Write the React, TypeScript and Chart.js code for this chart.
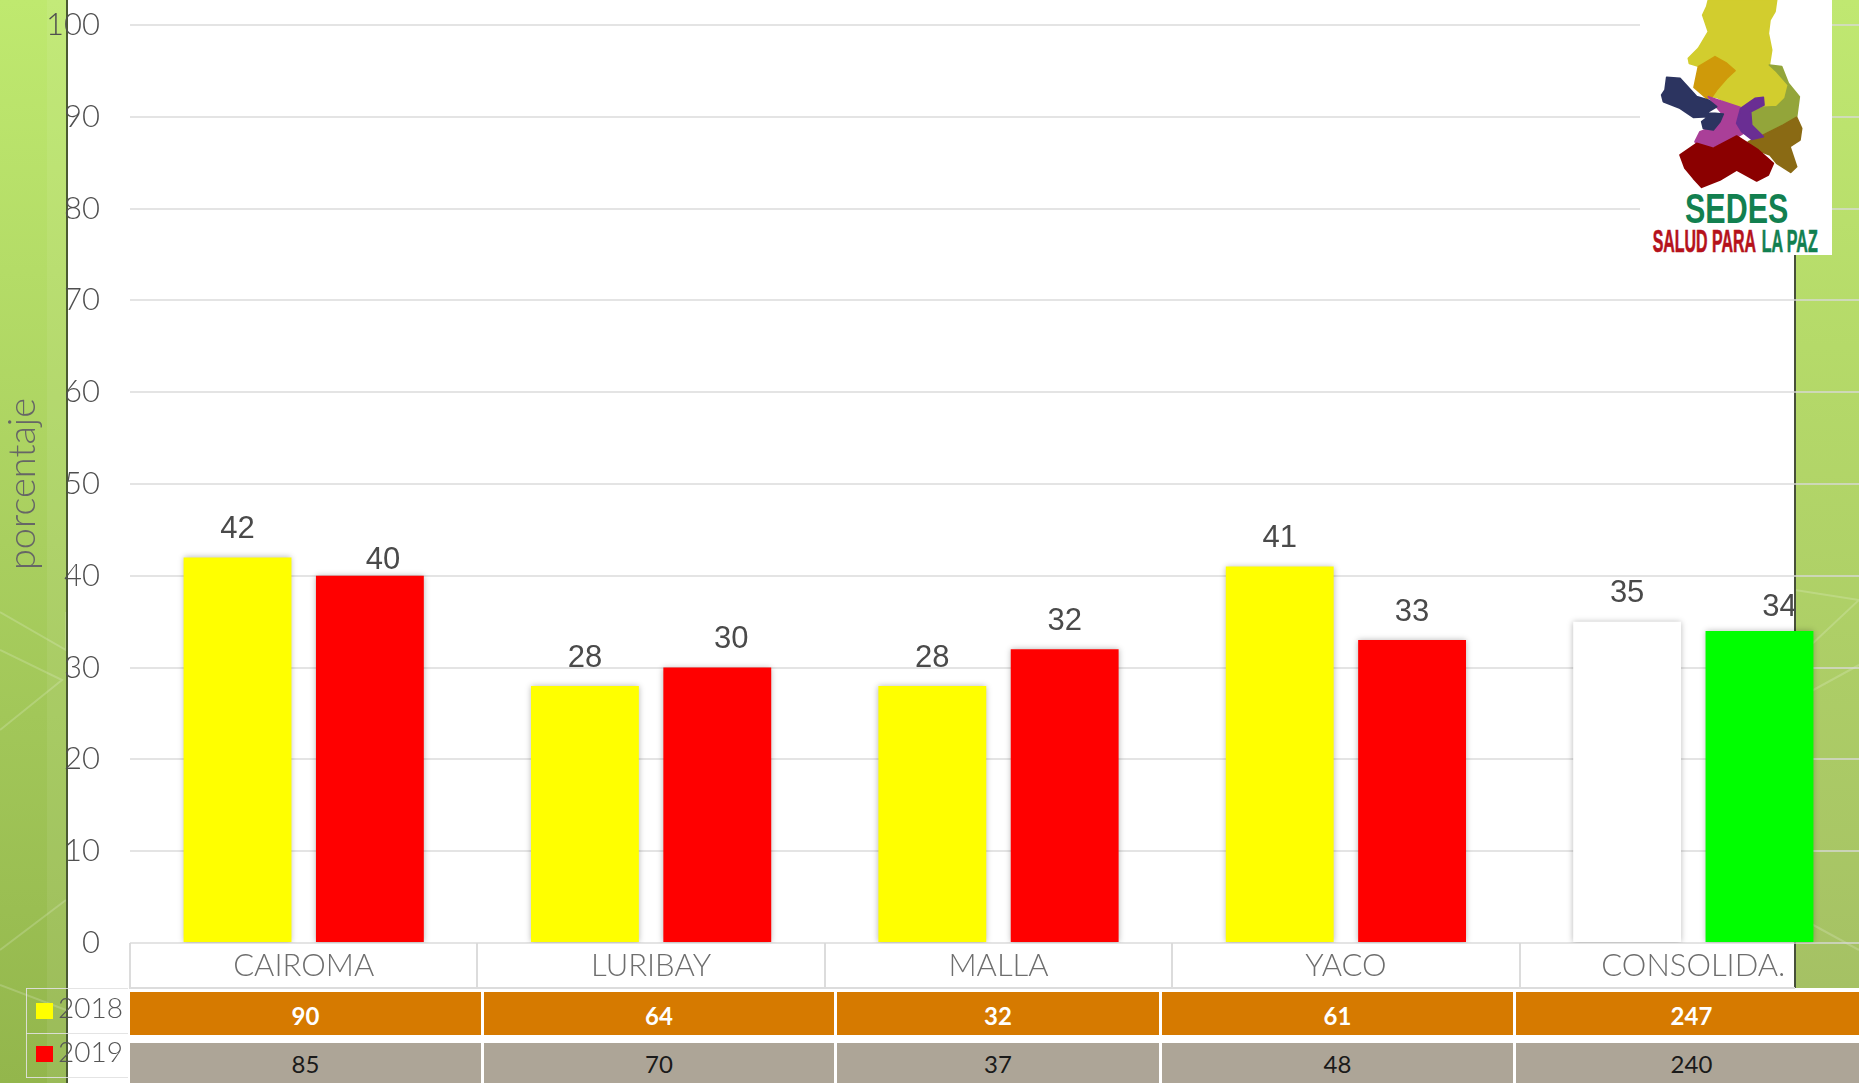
import React, { useEffect, useRef } from "react";
import { Chart, registerables } from "chart.js";

Chart.register(...registerables);

const categories = ["CAIROMA", "LURIBAY", "MALLA", "YACO", "CONSOLIDA."];
const pct2018 = [42, 28, 28, 41, 35];
const pct2019 = [40, 30, 32, 33, 34];
const colors2018 = ["#ffff00", "#ffff00", "#ffff00", "#ffff00", "#ffffff"];
const colors2019 = ["#ff0000", "#ff0000", "#ff0000", "#ff0000", "#00ff00"];
const counts2018 = [90, 64, 32, 61, 247];
const counts2019 = [85, 70, 37, 48, 240];
const yTicks = [0, 10, 20, 30, 40, 50, 60, 70, 80, 90, 100];

// hand-placed label offsets seen in the reference [dx, dy] per dataset / category
const labelNudges: Record<string, [number, number]> = {
  "1-0": [13, 13],
  "1-1": [14, 0],
  "1-4": [20, 5],
};

const TICK_FONT = "Lato, 'Open Sans', sans-serif";

const barExtras = {
  id: "barExtras",
  beforeDatasetDraw(chart: any) {
    const c = chart.ctx;
    c.save();
    c.shadowColor = "rgba(0,0,0,0.28)";
    c.shadowBlur = 6;
  },
  afterDatasetDraw(chart: any) {
    chart.ctx.restore();
  },
  afterDatasetsDraw(chart: any) {
    const c = chart.ctx;
    c.save();
    c.font = "31px 'Liberation Sans', sans-serif";
    c.fillStyle = "#4a4a4a";
    c.textAlign = "center";
    c.textBaseline = "middle";
    chart.data.datasets.forEach((ds: any, di: number) => {
      chart.getDatasetMeta(di).data.forEach((bar: any, i: number) => {
        const n = labelNudges[`${di}-${i}`] || [0, 0];
        c.fillText(String(ds.data[i]), bar.x + n[0], bar.y - 28 + n[1]);
      });
    });
    c.restore();
  },
};

const abs = (left: number, top: number, width: number, height: number, extra: any = {}) => ({
  position: "absolute" as const,
  left,
  top,
  width,
  height,
  ...extra,
});

const colEdges = [130, 484, 837, 1162, 1516, 1870];

function Row({ values, top, height, bg, style }: any) {
  return (
    <>
      {values.map((v: number, i: number) => (
        <div
          key={i}
          style={abs(colEdges[i], top, colEdges[i + 1] - colEdges[i] - 3, height, {
            background: bg,
            display: "flex",
            alignItems: "center",
            justifyContent: "center",
            fontFamily: TICK_FONT,
            fontSize: 24,
            ...style,
          })}
        >
          {v}
        </div>
      ))}
    </>
  );
}

function Logo() {
  return (
    <svg style={abs(1640, 0, 192, 255, { background: "#fff" })} viewBox="420 0 576 765">
      <g strokeWidth="5" strokeLinejoin="round">
        <polygon fill="#d2cd2e" stroke="#d2cd2e" points="625,0 830,0 825,35 810,60 805,100 815,150 808,195 830,215 865,255 855,295 830,320 790,322 775,290 745,320 715,325 650,292 635,290 650,270 680,235 705,212 680,190 645,170 600,200 568,190 565,175 595,145 625,95 608,45 620,20" />
        <polygon fill="#cf9a0a" stroke="#cf9a0a" points="595,200 645,170 680,190 705,212 680,235 650,270 635,292 620,295 582,262" />
        <polygon fill="#93a53a" stroke="#93a53a" points="808,195 845,200 865,250 898,290 890,350 850,375 790,405 755,370 750,335 790,322 830,320 855,295 865,255 830,215" />
        <polygon fill="#8a6a14" stroke="#8a6a14" points="890,352 905,385 900,420 870,440 890,500 872,517 830,490 810,465 770,450 745,425 790,405 850,375" />
        <polygon fill="#aa3f98" stroke="#aa3f98" points="625,290 720,322 710,370 730,400 705,415 640,440 605,450 585,425 600,395 640,380 670,345 640,310" />
        <polygon fill="#6a2e93" stroke="#6a2e93" points="765,295 790,292 792,315 752,335 755,375 790,410 755,418 725,395 710,370 722,325" />
        <polygon fill="#2c3460" stroke="#2c3460" points="500,232 540,235 590,290 625,300 650,320 620,338 670,342 660,365 640,390 610,385 605,365 625,350 580,352 540,325 490,305 485,285 495,270" />
        <polygon fill="#8b0000" stroke="#8b0000" points="540,465 590,430 640,445 710,408 745,430 775,450 820,490 805,525 770,543 710,510 660,540 605,562 580,535 555,505" />
      </g>
      <text x="555" y="668" fontFamily="'Liberation Sans'" fontWeight="bold" fontSize="125" fill="#128050" textLength="310" lengthAdjust="spacingAndGlyphs">SEDES</text>
      <text x="458" y="755" fontFamily="'Liberation Sans'" fontWeight="bold" fontSize="95" fill="#b5121b" stroke="#b5121b" strokeWidth="2" textLength="310" lengthAdjust="spacingAndGlyphs">SALUD PARA</text>
      <text x="785" y="755" fontFamily="'Liberation Sans'" fontWeight="bold" fontSize="95" fill="#128050" stroke="#128050" strokeWidth="2" textLength="168" lengthAdjust="spacingAndGlyphs">LA PAZ</text>
    </svg>
  );
}

export default function App() {
  const ref = useRef<HTMLCanvasElement>(null);
  useEffect(() => {
    const chart = new Chart(ref.current as HTMLCanvasElement, {
      type: "bar",
      data: {
        labels: categories,
        datasets: [
          { label: "2018", data: pct2018, backgroundColor: colors2018, barPercentage: 0.815, categoryPercentage: 0.762 },
          { label: "2019", data: pct2019, backgroundColor: colors2019, barPercentage: 0.815, categoryPercentage: 0.762 },
        ],
      },
      options: {
        animation: false,
        responsive: false,
        layout: { padding: { top: 25, right: 13, bottom: 0, left: 0 } },
        plugins: { legend: { display: false }, tooltip: { enabled: false }, title: { display: false } },
        scales: {
          x: {
            grid: {
              drawOnChartArea: false,
              drawTicks: true,
              tickLength: 46,
              color: "#dcdcdc",
              lineWidth: 2,
              offset: true,
            },
            border: { display: false },
            ticks: {
              padding: -42,
              autoSkip: false,
              maxRotation: 0,
              color: "#6e6e6e",
              font: { family: TICK_FONT, size: 31, weight: "300" },
            },
            afterFit(s: any) {
              s.height = 140;
              s.paddingLeft = 0;
              s.paddingRight = 0;
            },
          },
          y: {
            min: 0,
            max: 100,
            afterBuildTicks(s: any) {
              s.ticks = yTicks.map((value) => ({ value }));
            },
            grid: { color: "rgba(217,217,217,0.7)", lineWidth: 2, drawTicks: false },
            border: { display: false },
            title: {
              display: true,
              text: "porcentaje",
              color: "#666666",
              font: { family: TICK_FONT, size: 38, weight: "300" },
              padding: { top: 0, bottom: 0 },
            },
            ticks: {
              padding: 30,
              color: "#4f4f4f",
              font: { family: TICK_FONT, size: 31, weight: "300" },
            },
            afterFit(s: any) {
              s.width = 130;
              s.paddingTop = 0;
              s.paddingBottom = 0;
            },
          },
        },
      },
      plugins: [barExtras],
    } as any);
    return () => chart.destroy();
  }, []);

  return (
    <div style={{ position: "fixed", left: 0, top: 0, width: 1859, height: 1083, overflow: "hidden", background: "#fff" }}>
      {/* slide background */}
      <div style={abs(0, 0, 67, 1083, { background: "linear-gradient(180deg,#bfe96f 0%,#a9cf5f 50%,#93b64c 100%)" })} />
      <div style={abs(47, 0, 20, 1083, { background: "rgba(255,255,255,0.07)" })} />
      <div style={abs(1795, 0, 64, 988, { background: "linear-gradient(180deg,#c0e871 0%,#b5da69 35%,#a5c164 100%)" })} />
      <svg style={abs(0, 0, 1859, 1083)}>
        <g stroke="rgba(255,255,255,0.18)" strokeWidth="2" fill="none">
          <polyline points="0,612 66,650 66,612" />
          <polyline points="0,650 62,680 0,730" />
          <polyline points="0,950 66,900" />
          <polyline points="0,985 66,1010" />
          <polyline points="1795,590 1859,600 1795,660" />
          <polyline points="1795,700 1859,665" />
          <polyline points="1795,915 1859,950" />
        </g>
      </svg>
      <div style={abs(66, 0, 2, 1083, { background: "#4b5a32" })} />
      <div style={abs(1794, 255, 2, 733, { background: "#47503a" })} />

      <canvas ref={ref} width={1880} height={1083} style={{ position: "absolute", left: 0, top: 0, display: "block" }} />

      {/* axis foot and data table */}
      <div style={abs(130, 988, 1729, 95, { background: "#fff" })} />
      <div style={abs(130, 987, 1665, 2, { background: "#dcdcdc" })} />
      <Row values={counts2018} top={992} height={43} bg="#d67a00" style={{ color: "#fff", fontWeight: 700, paddingTop: 3, boxSizing: "border-box" }} />
      <Row values={counts2019} top={1043} height={40} bg="#ada597" style={{ color: "#1a1a1a" }} />

      {/* legend keys */}
      <div style={abs(26, 988, 102, 1, { background: "rgba(225,225,225,0.9)" })} />
      <div style={abs(26, 1033, 102, 1, { background: "rgba(225,225,225,0.9)" })} />
      <div style={abs(26, 1077, 102, 1, { background: "rgba(225,225,225,0.9)" })} />
      <div style={abs(26, 988, 1, 90, { background: "rgba(225,225,225,0.9)" })} />
      <div style={abs(36, 1003, 17, 16, { background: "#ffff00" })} />
      <div style={abs(36, 1046, 17, 16, { background: "#ff0000" })} />
      {["2018", "2019"].map((t, i) => (
        <div
          key={t}
          style={abs(58, i === 0 ? 987 : 1031, 70, 40, {
            fontFamily: TICK_FONT,
            fontWeight: 300,
            fontSize: 28,
            lineHeight: "40px",
            color: "#555",
          })}
        >
          {t}
        </div>
      ))}
      <Logo />
    </div>
  );
}
